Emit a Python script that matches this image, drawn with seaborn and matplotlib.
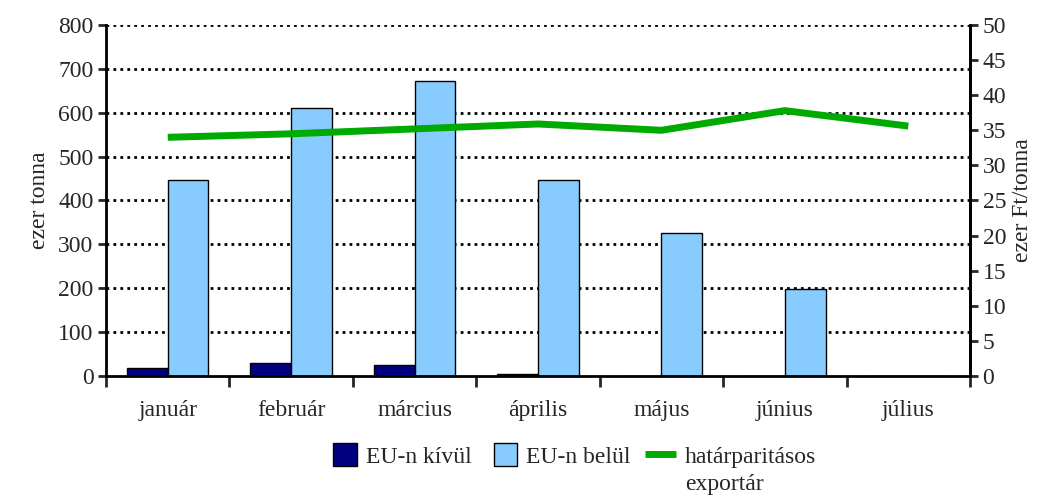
import matplotlib
matplotlib.use("Agg")
import matplotlib.pyplot as plt
import seaborn as sns
import numpy as np
import pandas as pd
from matplotlib.lines import Line2D
from matplotlib.patches import Patch, Rectangle
from matplotlib.legend_handler import HandlerPatch

# Data
months = ["január", "február", "március", "április", "május", "június", "július"]
eu_kivul = [18, 30, 25, 4, 1, 1, 0]            # ezer tonna
eu_belul = [446, 610, 672, 446, 326, 198, 0]   # ezer tonna
exportar = [34.0, 34.5, 35.2, 35.9, 35.0, 37.8, 35.6]  # ezer Ft/tonna

sns.set_style("white")
plt.rcParams['font.family'] = ['Liberation Serif', 'DejaVu Serif']
FS = 17

dark = "#000080"
light = "#88CCFF"
green = "#00AA00"

df = pd.DataFrame({
    "honap": months * 2,
    "ertek": eu_kivul + eu_belul,
    "csoport": ["EU-n kívül"] * 7 + ["EU-n belül"] * 7,
})

W, H = 1048, 497
fig = plt.figure(figsize=(W / 100, H / 100), dpi=100)
ax = fig.add_axes([0.1012, 0.2435, 0.8244, 0.7062])

sns.barplot(data=df, x="honap", y="ertek", hue="csoport", order=months,
            hue_order=["EU-n kívül", "EU-n belül"],
            palette=[dark, light], saturation=1, width=0.66,
            edgecolor="black", linewidth=1, ax=ax, legend=False)

ax.set_ylim(0, 800)
ax.set_yticks(range(0, 801, 100))
ax.set_xlim(-0.5, 6.5)
ax.set_xlabel("")
ax.set_ylabel("ezer tonna", fontsize=FS, labelpad=6)
for y in range(100, 801, 100):
    ax.axhline(y, color="black", lw=2, ls=(0, (1, 1.5)), zorder=0)

# x ticks at category boundaries, labels centered
ax.set_xticks(np.arange(-0.5, 7, 1))
ax.set_xticklabels([])
ax.set_xticks(np.arange(7), minor=True)
ax.set_xticklabels(months, minor=True, fontsize=FS)
ax.tick_params(axis="x", which="major", direction="out", length=8, width=2, bottom=True)
ax.tick_params(axis="x", which="minor", length=0, pad=17)
ax.tick_params(axis="y", direction="out", length=6, width=2, left=True,
               labelsize=FS, pad=3)

ax.spines["top"].set_visible(False)
for s in ["left", "bottom", "right"]:
    ax.spines[s].set_linewidth(2)
    ax.spines[s].set_color("black")

ax2 = ax.twinx()
sns.lineplot(x=np.arange(len(months)), y=exportar, color=green, lw=5,
             solid_capstyle="butt", ax=ax2)
ax2.set_ylim(0, 50)
ax2.set_yticks(range(0, 51, 5))
ax2.set_ylabel("ezer Ft/tonna", fontsize=FS, labelpad=4)
ax2.tick_params(axis="y", direction="out", length=6, width=2, right=True,
                labelsize=FS, pad=3)
for s in ["top", "left", "bottom"]:
    ax2.spines[s].set_visible(False)
ax2.spines["right"].set_linewidth(2)
ax2.spines["right"].set_color("black")


# square legend boxes, right-aligned in the handle slot
def square(legend, orig_handle, xdescent, ydescent, width, height, fontsize):
    s = height * 1.1
    return Rectangle((width - s - xdescent, -ydescent - 0.05 * height), s, s)


handles = [
    Patch(facecolor=dark, edgecolor="black", label="EU-n kívül"),
    Patch(facecolor=light, edgecolor="black", label="EU-n belül"),
    Line2D([0], [0], color=green, lw=5, solid_capstyle="butt",
           label="határparitásos"),
]
leg = fig.legend(handles=handles, loc="center", bbox_to_anchor=(0.545, 1 - 456 / H),
                 ncol=3, frameon=False, fontsize=FS, handlelength=1.3,
                 handleheight=1.0, handletextpad=0.4, columnspacing=0.6,
                 handler_map={Patch: HandlerPatch(patch_func=square)})

# second line of the third legend label, under the first line
fig.canvas.draw()
bb = leg.get_texts()[2].get_window_extent()
fig.text(bb.x0 / W, (bb.y0 - 6) / H, "exportár", fontsize=FS,
         ha="left", va="top")

fig.savefig("out.png", dpi=100)
